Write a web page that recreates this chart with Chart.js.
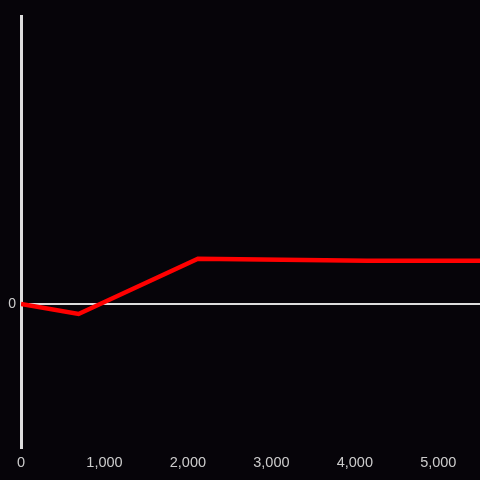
<!DOCTYPE html>
<html>
<head>
<meta charset="utf-8">
<script src="https://cdn.jsdelivr.net/npm/chart.js@4"></script>
<style>
  html, body { margin: 0; padding: 0; background: #060409; }
  canvas { display: block; }
</style>
</head>
<body>
<canvas id="lineChart" width="480" height="480"></canvas>
<script>
// Datos
const xValues = [0, 690, 2120, 4150, 5500];
const yValues = [0, -100, 455, 435, 435];
const xRange = [0, 5500];
const yRange = [-1450, 2900];
const xTickValues = [0, 1000, 2000, 3000, 4000, 5000];
const yTickValues = [0];

const ctx = document.getElementById('lineChart').getContext('2d');

const lineChart = new Chart(ctx, {
    type: 'line',
    data: {
        datasets: [{
            data: xValues.map((x, i) => ({ x: x, y: yValues[i] })),
            borderColor: '#ff0000',
            borderWidth: 4.5,
            pointRadius: 0,
            tension: 0,
            fill: false
        }]
    },
    options: {
        responsive: false,
        animation: false,
        layout: { padding: { top: 16, right: 0, left: 0, bottom: 0 } },
        plugins: {
            legend: { display: false },
            tooltip: { enabled: false }
        },
        scales: {
            x: {
                type: 'linear',
                min: xRange[0],
                max: xRange[1],
                afterBuildTicks: (scale) => {
                    scale.ticks = xTickValues.map(v => ({ value: v }));
                },
                grid: { display: false },
                border: { display: false },
                ticks: {
                    maxRotation: 0,
                    autoSkip: false,
                    color: '#cccccc',
                    font: { family: 'Liberation Sans', size: 14.5 },
                    padding: -2
                },
                afterFit: (scale) => { scale.height = 32; }
            },
            y: {
                min: yRange[0],
                max: yRange[1],
                afterBuildTicks: (scale) => {
                    scale.ticks = yTickValues.map(v => ({ value: v }));
                },
                grid: {
                    drawTicks: false,
                    lineWidth: 2,
                    color: (c) => c.tick && c.tick.value === 0 ? '#dddddd' : 'rgba(0,0,0,0)'
                },
                border: { color: '#dddddd', width: 3 },
                ticks: {
                    color: '#cccccc',
                    font: { family: 'Liberation Sans', size: 14 },
                    padding: 5
                },
                afterFit: (scale) => { scale.width = 21; }
            }
        }
    }
});
</script>
</body>
</html>
